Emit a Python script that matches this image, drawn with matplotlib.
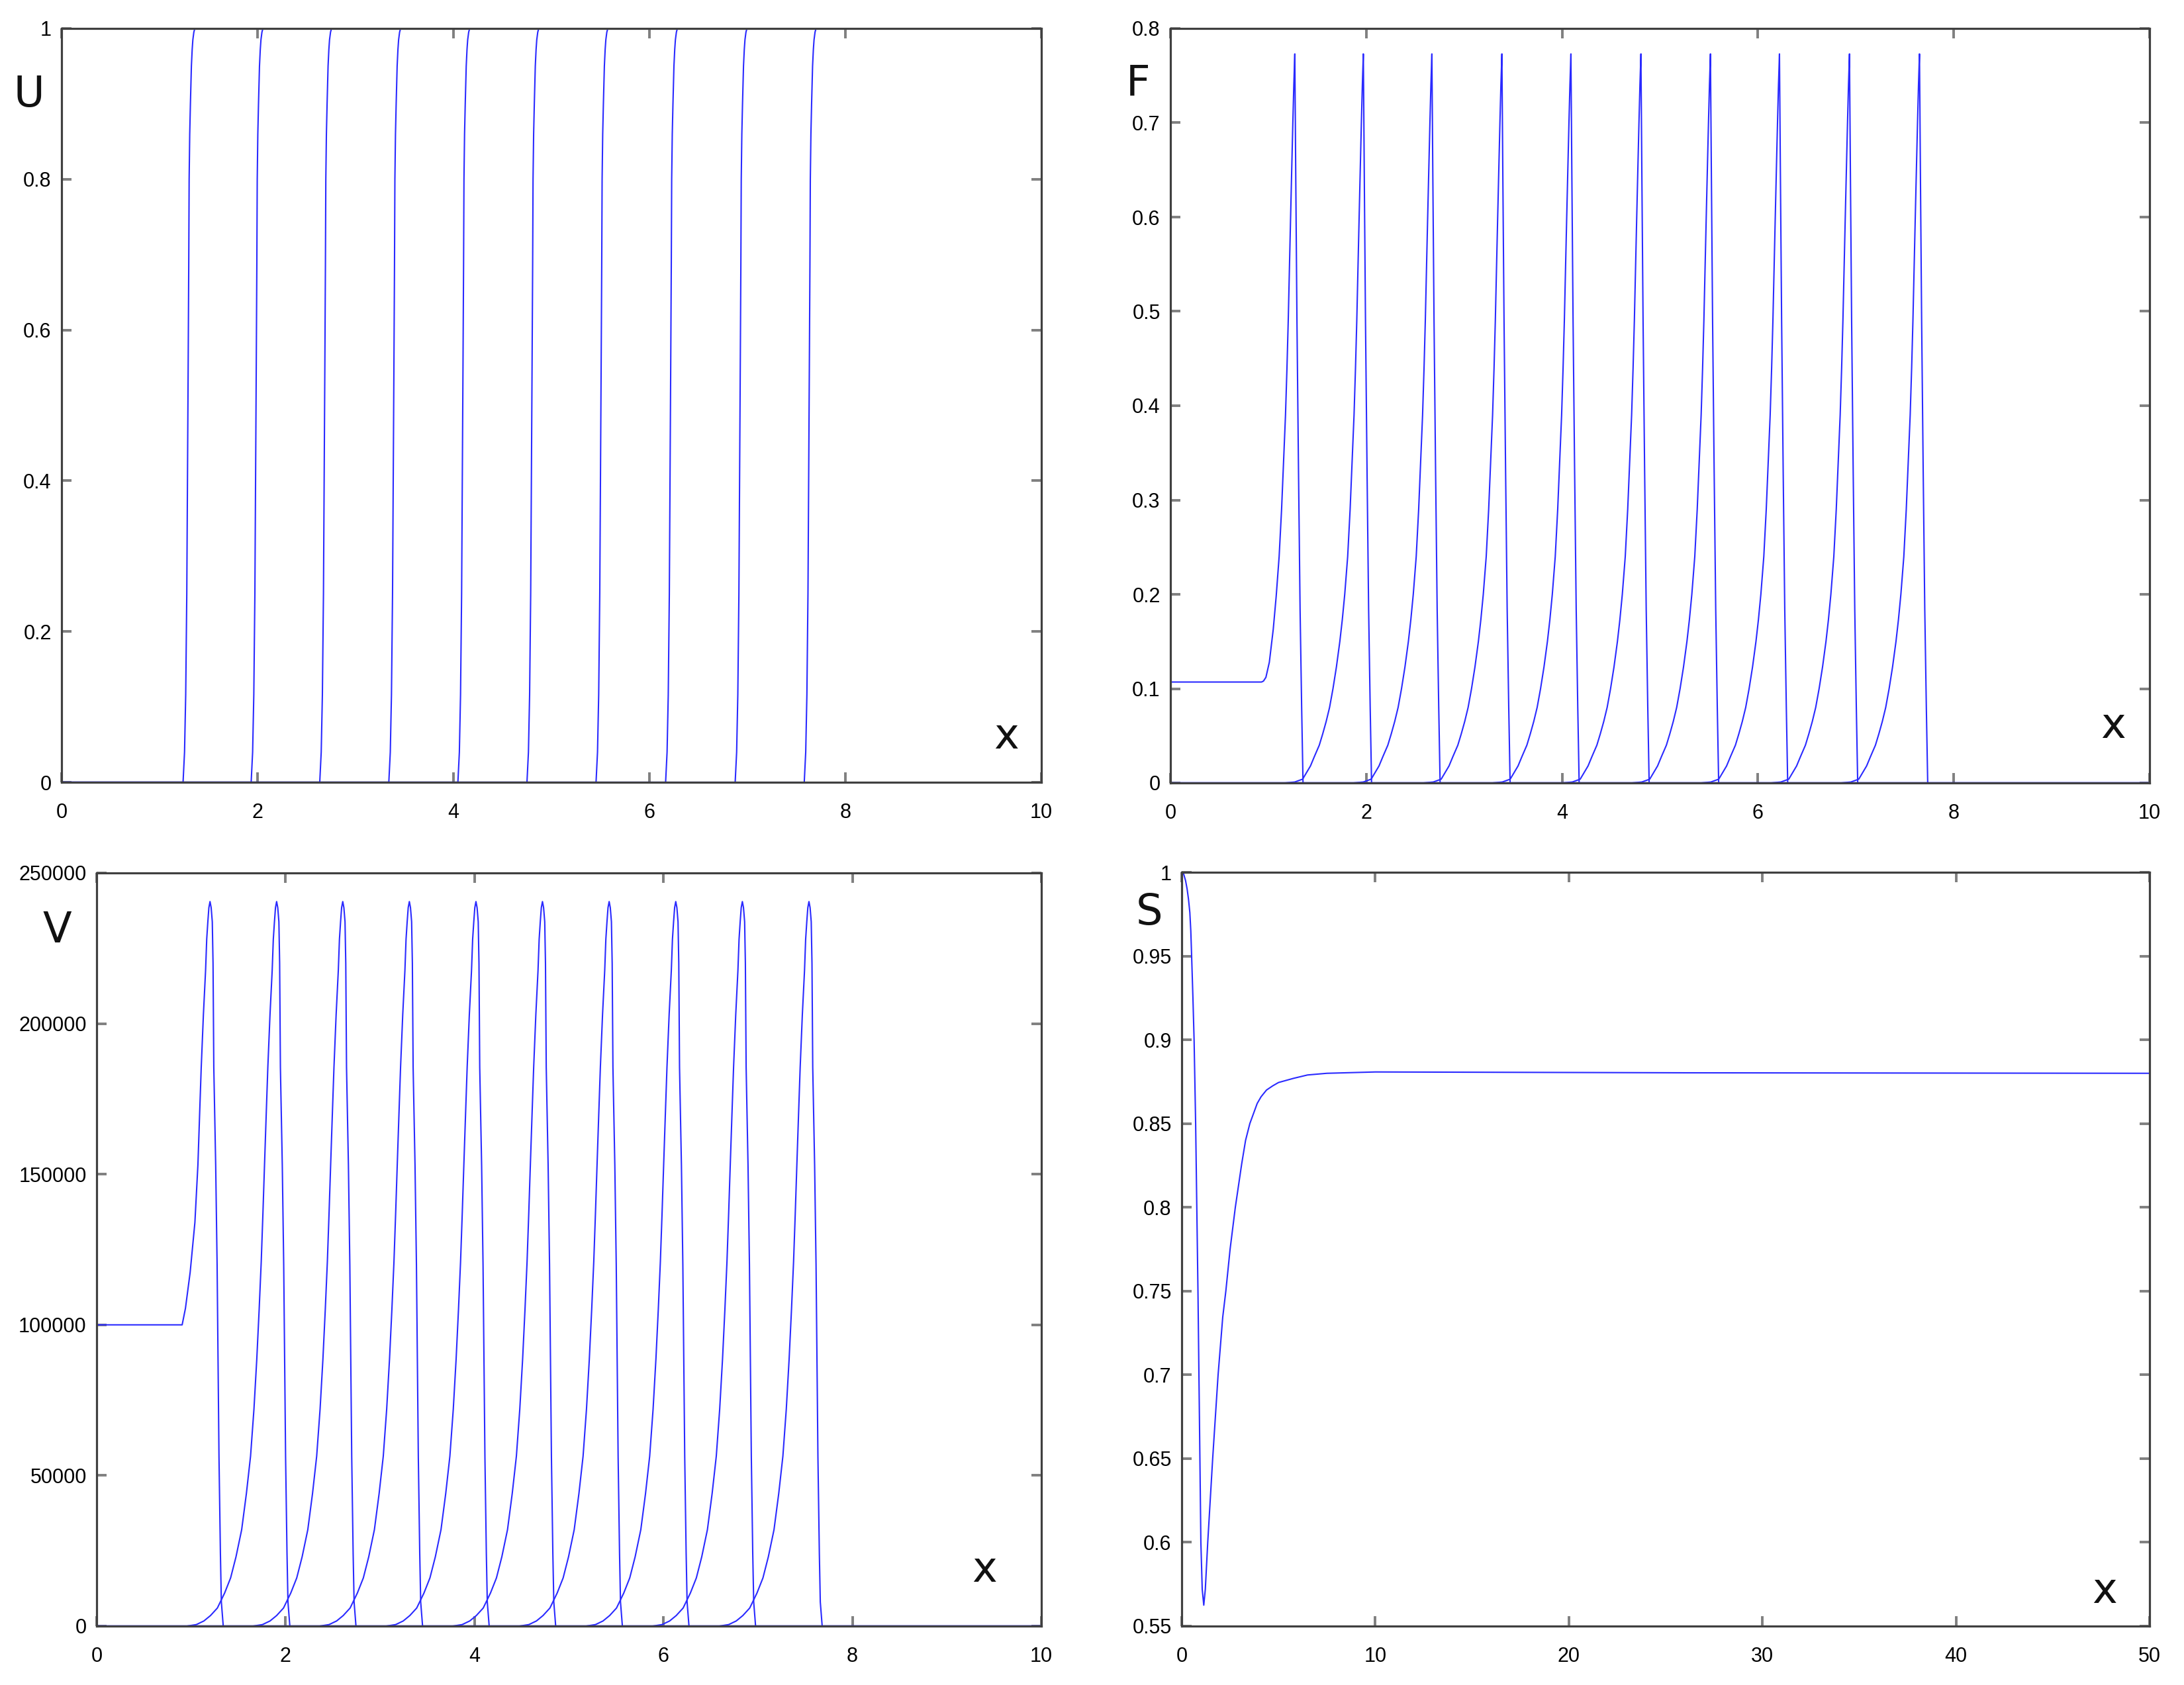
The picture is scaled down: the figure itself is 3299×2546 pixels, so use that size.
import numpy as np
import matplotlib
matplotlib.use("Agg")
import matplotlib.pyplot as plt
from matplotlib.ticker import FormatStrFormatter, MultipleLocator

# snapshot positions (x of front / peak)
u_fronts = [1.24, 1.935, 2.635, 3.34, 4.045, 4.75, 5.455, 6.165, 6.875, 7.58]
f_peaks = [1.27, 1.97, 2.67, 3.385, 4.09, 4.805, 5.515, 6.22, 6.935, 7.65]
v_peaks = [1.20, 1.905, 2.605, 3.31, 4.015, 4.719, 5.425, 6.13, 6.835, 7.54]

# front shape of U (offset from front foot, value)
u_prof_dx = [0.0, 0.015, 0.027, 0.038, 0.045, 0.052, 0.058, 0.062, 0.068, 0.075,
             0.085, 0.093, 0.10, 0.11, 0.12]
u_prof_y = [0.0, 0.04, 0.116, 0.25, 0.40, 0.55, 0.686, 0.80, 0.86, 0.90,
            0.95, 0.972, 0.985, 0.995, 1.0]

# pulse shape of F (offset from peak, value)
f_prof_dx = [-0.80, -0.70, -0.62, -0.54, -0.50, -0.45, -0.415, -0.38, -0.345, -0.31,
             -0.275, -0.24, -0.215, -0.19, -0.16, -0.135, -0.115, -0.095, -0.08, -0.067,
             -0.055, -0.044, -0.032, -0.02, -0.01, 0.0, 0.01, 0.022, 0.038, 0.054,
             0.07, 0.084]
f_prof_y = [0.0, 0.001, 0.004, 0.018, 0.028, 0.04, 0.052, 0.065, 0.08, 0.10,
            0.123, 0.15, 0.173, 0.20, 0.24, 0.29, 0.34, 0.39, 0.44, 0.49,
            0.545, 0.595, 0.648, 0.70, 0.74, 0.773, 0.64, 0.49, 0.33, 0.184,
            0.08, 0.0]
# first F snapshot (initial plateau)
f_first_x = [0.0, 0.93, 0.95, 0.975, 1.01, 1.05, 1.08, 1.11, 1.135, 1.155, 1.175,
             1.19, 1.203, 1.215, 1.226, 1.238, 1.25, 1.26, 1.27, 1.28, 1.292,
             1.308, 1.324, 1.34, 1.354, 10.0]
f_first_y = [0.107, 0.107, 0.108, 0.112, 0.128, 0.163, 0.198, 0.24, 0.29, 0.34, 0.39,
             0.44, 0.49, 0.545, 0.595, 0.648, 0.70, 0.74, 0.773, 0.64, 0.49,
             0.33, 0.184, 0.08, 0.0, 0.0]

# pulse shape of V
v_prof_dx = [-0.95, -0.85, -0.77, -0.70, -0.627, -0.55, -0.487, -0.43, -0.37, -0.32,
             -0.276, -0.24, -0.21, -0.185, -0.163, -0.145, -0.128, -0.11, -0.093, -0.07,
             -0.047, -0.035, -0.023, -0.012, 0.0, 0.012, 0.024, 0.032, 0.04, 0.06,
             0.075, 0.085, 0.095, 0.11, 0.12, 0.14]
v_prof_y = [0, 500, 1700, 3500, 6000, 11000, 16000, 23000, 32000, 44000,
            56400, 72000, 88600, 105000, 120900, 137000, 153200, 170000, 185500, 203000,
            217600, 228000, 233800, 238500, 240500, 238500, 233800, 220000, 185500, 153000,
            120000, 88000, 56000, 24000, 8000, 0]
v_first_x = [0.0, 0.905, 0.94, 0.99, 1.04, 1.072, 1.09, 1.107, 1.13, 1.153, 1.165,
             1.177, 1.188, 1.20, 1.212, 1.224, 1.232, 1.24, 1.26, 1.275, 1.285,
             1.295, 1.31, 1.32, 1.34, 10.0]
v_first_y = [100000, 100000, 105500, 117500, 134000, 153200, 170000, 185500, 203000, 217600, 228000,
             233800, 238500, 240500, 238500, 233800, 220000, 185500, 153000, 120000, 88000,
             56000, 24000, 8000, 0, 0]

# S profile
s_x = [0.0, 0.05, 0.1, 0.2, 0.28, 0.35, 0.42, 0.47, 0.51, 0.58, 0.64, 0.72, 0.78,
       0.84, 0.89, 0.94, 0.99, 1.06, 1.14, 1.22, 1.345, 1.6, 1.88, 2.12, 2.28,
       2.5, 2.77, 3.1, 3.3, 3.52, 3.9, 4.1, 4.38, 4.7, 5.0, 5.78, 6.5, 7.5,
       10.0, 26.0, 50.0]
s_y = [1.0, 0.9997, 0.999, 0.995, 0.99, 0.984, 0.976, 0.965, 0.951, 0.925, 0.90, 0.85, 0.80,
       0.75, 0.70, 0.65, 0.60, 0.572, 0.5625, 0.572, 0.60, 0.65, 0.70, 0.7345, 0.75,
       0.775, 0.80, 0.826, 0.84, 0.85, 0.862, 0.866, 0.870, 0.8725, 0.8745, 0.877, 0.879, 0.880,
       0.8808, 0.8803, 0.880]

LINE = "#2a2aff"
W, H = 3299, 2546
fig = plt.figure(figsize=(W / 100, H / 100), dpi=100)


def px_axes(l, r, t, b):
    return fig.add_axes([l / W, (H - b) / H, (r - l) / W, (b - t) / H])


def style(ax, xlim, ylim, xstep, ystep):
    ax.set_xlim(*xlim)
    ax.set_ylim(*ylim)
    ax.xaxis.set_major_locator(MultipleLocator(xstep))
    ax.yaxis.set_major_locator(MultipleLocator(ystep))
    ax.xaxis.set_major_formatter(FormatStrFormatter("%g"))
    ax.yaxis.set_major_formatter(FormatStrFormatter("%g"))
    for s in ax.spines.values():
        s.set_color("#404040")
        s.set_linewidth(2.3)
    ax.tick_params(direction="in", top=True, right=True, length=11, width=2.8,
                   color="#808080", labelsize=22)
    ax.tick_params(axis="x", pad=22)
    ax.tick_params(axis="y", pad=11)
    for lab in ax.get_xticklabels() + ax.get_yticklabels():
        lab.set_fontfamily("Liberation Sans")


# U
ax1 = px_axes(93, 1573, 43, 1182)
for f in u_fronts:
    xs = [0.0] + [f + d for d in u_prof_dx] + [10.0]
    ys = [0.0] + u_prof_y + [1.0]
    ax1.plot(xs, ys, color=LINE, lw=1.5)
style(ax1, (0, 10), (0, 1), 2, 0.2)

# F
ax2 = px_axes(1768, 3247, 43, 1183)
ax2.plot(f_first_x, f_first_y, color=LINE, lw=1.5)
for p in f_peaks[1:]:
    xs = [0.0] + [p + d for d in f_prof_dx] + [10.0]
    ys = [0.0] + f_prof_y + [0.0]
    ax2.plot(xs, ys, color=LINE, lw=1.5)
style(ax2, (0, 10), (0, 0.8), 2, 0.1)

# V
ax3 = px_axes(146, 1573, 1319, 2457)
ax3.plot(v_first_x, v_first_y, color=LINE, lw=1.5)
for p in v_peaks[1:]:
    xs = [0.0] + [p + d for d in v_prof_dx] + [10.0]
    ys = [0] + v_prof_y + [0]
    ax3.plot(xs, ys, color=LINE, lw=1.5)
style(ax3, (0, 10), (0, 250000), 2, 50000)

# S
ax4 = px_axes(1785, 3247, 1318, 2457)
ax4.plot(s_x, s_y, color=LINE, lw=1.5)
style(ax4, (0, 50), (0.55, 1.0), 10, 0.05)

# panel letters
letters = [("U", 44, 161), ("F", 1719, 143), ("V", 86, 1424), ("S", 1736, 1397),
           ("x", 1520, 1131), ("x", 3192, 1115), ("x", 1487, 2390), ("x", 3179, 2422)]
for txt, px, py in letters:
    fig.text(px / W, 1 - py / H, txt, fontsize=46, ha="center", va="baseline",
             color="#111111", family="DejaVu Sans")

fig.savefig("out.png", dpi=100, facecolor="white")
